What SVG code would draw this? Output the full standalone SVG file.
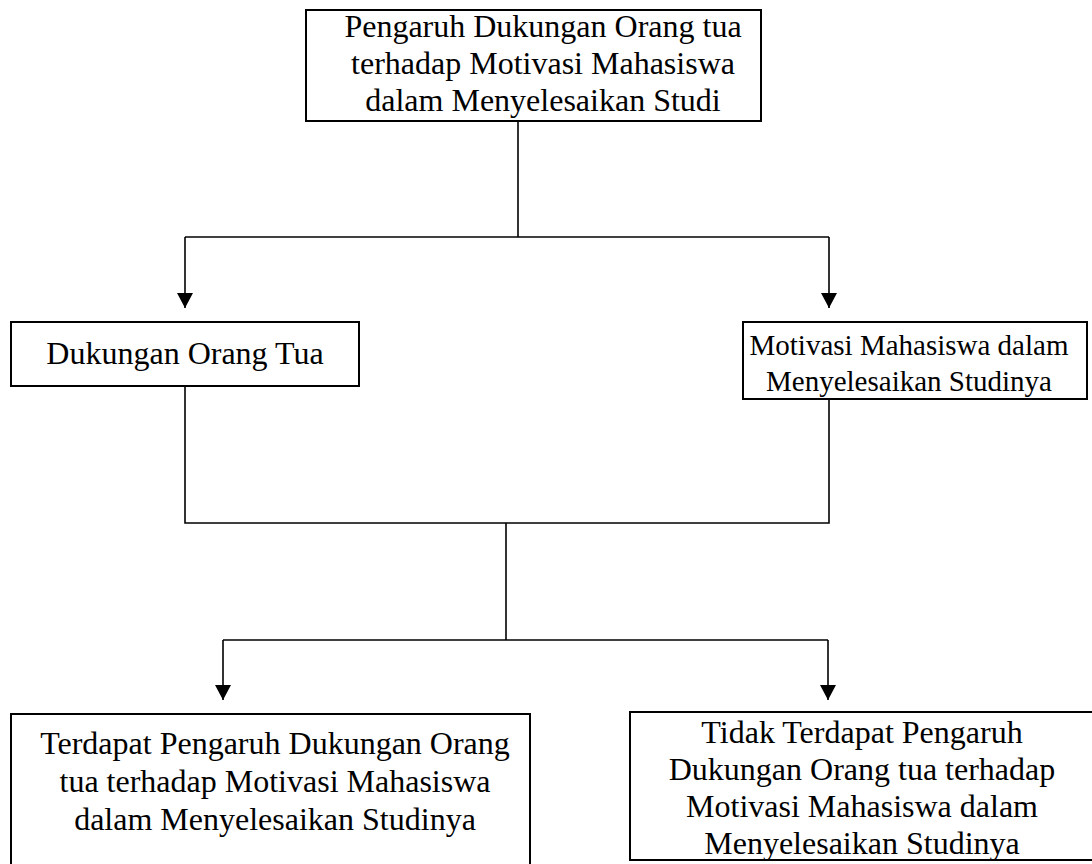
<svg xmlns="http://www.w3.org/2000/svg" width="1092" height="864" viewBox="0 0 1092 864">
<style>
.box{fill:#fff;stroke:#000;stroke-width:2}
.t{font-family:"Liberation Serif","Times New Roman",serif;font-size:32px;fill:#000;text-anchor:middle}
.s{font-size:29px}
.c{fill:none;stroke:#000;stroke-width:1.6}
</style>
<defs>
<marker id="ah" markerUnits="userSpaceOnUse" markerWidth="16" markerHeight="18" refX="15" refY="8" orient="auto" viewBox="0 0 16 16">
<path d="M0,0 L15,8 L0,16 Z" fill="#000"/>
</marker>
</defs>
<rect width="1092" height="864" fill="#fff"/>
<g id="connectors">
<path class="c" d="M518,121 V237"/>
<path class="c" d="M185,237 H829"/>
<path class="c" d="M185,237 V308" marker-end="url(#ah)"/>
<path class="c" d="M829,237 V308" marker-end="url(#ah)"/>
<path class="c" d="M185,386 V523 H829 V399"/>
<path class="c" d="M506,523 V640"/>
<path class="c" d="M223,640 H828"/>
<path class="c" d="M223,640 V700" marker-end="url(#ah)"/>
<path class="c" d="M828,640 V700" marker-end="url(#ah)"/>
</g>
<g id="node-top">
<rect class="box" x="306" y="10" width="455" height="111"/>
<text class="t" x="543" y="37">Pengaruh Dukungan Orang tua</text>
<text class="t" x="543" y="74">terhadap Motivasi Mahasiswa</text>
<text class="t" x="543" y="111">dalam Menyelesaikan Studi</text>
</g>
<g id="node-dukungan">
<rect class="box" x="11" y="322" width="348" height="64"/>
<text class="t" x="185" y="364">Dukungan Orang Tua</text>
</g>
<g id="node-motivasi">
<rect class="box" x="743" y="322" width="344" height="77"/>
<text class="t s" x="909" y="355">Motivasi Mahasiswa dalam</text>
<text class="t s" x="909" y="391">Menyelesaikan Studinya</text>
</g>
<g id="node-terdapat">
<rect class="box" x="11" y="714" width="519" height="170"/>
<text class="t" x="275" y="754">Terdapat Pengaruh Dukungan Orang</text>
<text class="t" x="275" y="792">tua terhadap Motivasi Mahasiswa</text>
<text class="t" x="275" y="830">dalam Menyelesaikan Studinya</text>
</g>
<g id="node-tidak">
<rect class="box" x="630" y="712" width="466" height="148"/>
<text class="t" x="862" y="743">Tidak Terdapat Pengaruh</text>
<text class="t" x="862" y="780">Dukungan Orang tua terhadap</text>
<text class="t" x="862" y="817">Motivasi Mahasiswa dalam</text>
<text class="t" x="862" y="854">Menyelesaikan Studinya</text>
</g>
</svg>
